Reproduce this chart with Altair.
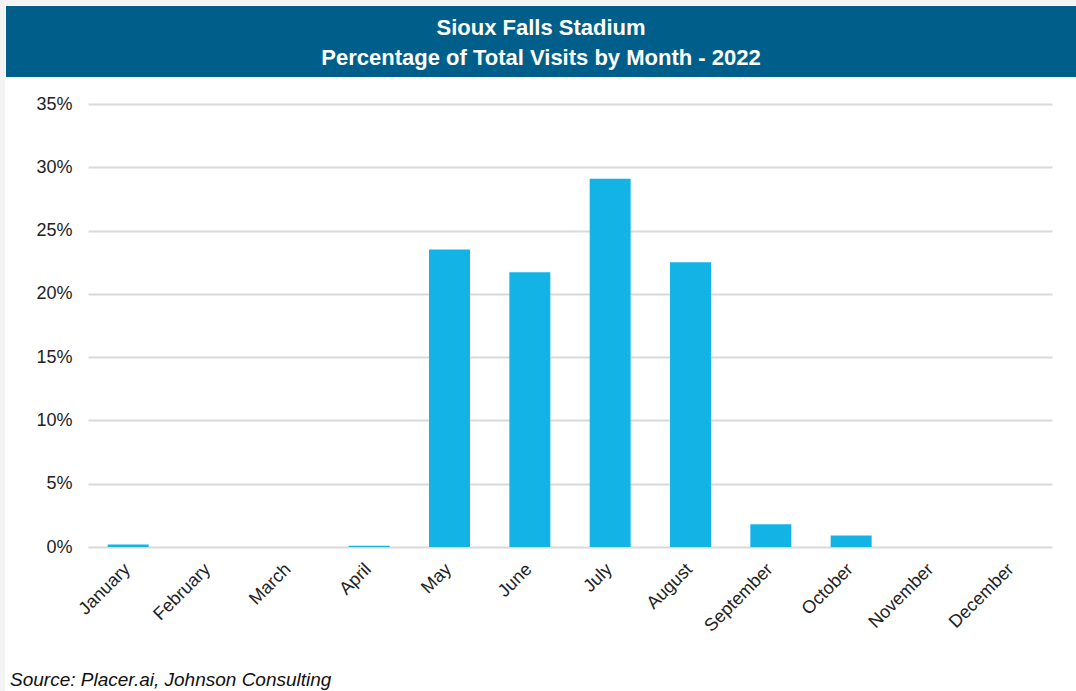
import altair as alt
import pandas as pd

months = ["January", "February", "March", "April", "May", "June",
          "July", "August", "September", "October", "November", "December"]
share = [0.002, 0.0, 0.0, 0.001, 0.235, 0.217, 0.291, 0.225, 0.018, 0.009, 0.0, 0.0]
y_ticks = [0, 0.05, 0.10, 0.15, 0.20, 0.25, 0.30, 0.35]
title_lines = ["Sioux Falls Stadium", "Percentage of Total Visits by Month - 2022"]
source_note = "Source: Placer.ai, Johnson Consulting"

df = pd.DataFrame({"Month": months, "Share": share})

W, H = 964, 443
BANNER = "#005F8A"
BAR = "#13B3E6"
FONT = "Liberation Sans"

bars = alt.Chart(df).mark_bar(color=BAR).encode(
    x=alt.X("Month:N", sort=months, title=None,
            scale=alt.Scale(paddingInner=0.49, paddingOuter=0.245),
            axis=alt.Axis(labelAngle=-45, labelFontSize=18, labelColor="#222222",
                          labelFont=FONT, ticks=False, domain=False, grid=False,
                          labelPadding=13, labelOffset=-7)),
    y=alt.Y("Share:Q", title=None,
            scale=alt.Scale(domain=[0, 0.35], nice=False),
            axis=alt.Axis(values=y_ticks, format=".0%", labelFontSize=18,
                          labelColor="#222222", labelFont=FONT, ticks=False,
                          domain=False, gridColor="#d9d9d9", gridWidth=2,
                          labelPadding=16)),
)

# left/top frame strip of the exported image
frame_left = alt.Chart(pd.DataFrame({"k": [0]})).mark_rect(color="#f3f3f3", clip=False).encode(
    x=alt.value(-88), x2=alt.value(-83), y=alt.value(-104), y2=alt.value(H + 144))
frame_top = alt.Chart(pd.DataFrame({"k": [0]})).mark_rect(color="#f3f3f3", clip=False).encode(
    x=alt.value(-88), x2=alt.value(W + 24), y=alt.value(-104), y2=alt.value(-99))

banner = alt.Chart(pd.DataFrame({"k": [0]})).mark_rect(color=BANNER, clip=False).encode(
    x=alt.value(-82), x2=alt.value(W + 24), y=alt.value(-98), y2=alt.value(-27))

title_df = pd.DataFrame({"t": title_lines, "row": [0, 1]})
title_text = alt.Chart(title_df).mark_text(
    color="white", font=FONT, fontSize=22, fontWeight="bold",
    align="center", baseline="middle", clip=False
).encode(
    text="t:N",
    x=alt.value((-82 + W + 24) / 2),
    y=alt.Y("row:Q", scale=alt.Scale(domain=[0, 1], range=[-76, -46]), axis=None),
)

source = alt.Chart(pd.DataFrame({"s": [source_note]})).mark_text(
    font=FONT, fontSize=19, fontStyle="italic", color="#111111",
    align="left", baseline="alphabetic", clip=False
).encode(text="s:N", x=alt.value(-78), y=alt.value(H + 139))

chart = alt.layer(frame_left, frame_top, banner, bars, title_text, source).resolve_scale(
    y="independent"
).properties(
    width=W, height=H,
    autosize=alt.AutoSizeParams(type="none"),
    padding={"left": 88, "top": 104, "right": 24, "bottom": 144},
    background="white",
).configure_view(stroke=None)

chart.save("out.html", embed_options={"renderer": "svg", "actions": False})
